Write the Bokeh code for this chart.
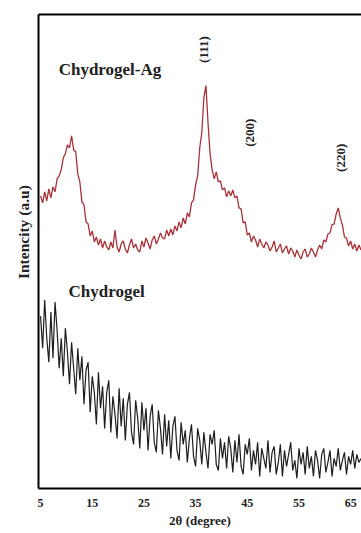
from bokeh.plotting import figure
from bokeh.models import LinearAxis, Label, FixedTicker, Range1d
from bokeh.embed import file_html
from bokeh.resources import INLINE

# 2-theta sampling (degrees)
theta_start = 5.0
theta_step = 0.4

# Chydrogel-Ag (red) intensities, a.u.
ag_intensity = [
    292, 285, 296, 287, 299, 290, 301, 296, 309, 312,
    318, 330, 334, 343, 340, 352, 338, 336, 314, 306,
    286, 283, 266, 264, 252, 257, 246, 251, 243, 249,
    240, 247, 241, 238, 246, 240,
    258, 241, 236, 244, 247, 239, 235, 243, 249, 240,
    244, 238, 236, 247, 241, 250, 245, 239, 248, 252,
    244, 249, 255, 250,
    249, 258, 252, 259, 253, 262, 257, 266, 260, 270,
    264, 275, 271, 285, 288, 303, 312, 340, 355, 390,
    402, 365, 334, 318, 309, 316, 306, 307, 298, 300,
    291, 297, 292, 298, 290, 292, 280, 279, 265, 266,
    253, 255, 246, 252, 248, 241, 249, 244, 240, 246,
    243, 237, 241, 247, 236, 240, 244, 235, 239, 242,
    234, 240, 237, 231, 238, 233, 229, 236, 239, 231,
    234, 240, 236, 231, 238, 243,
    239, 248, 246, 254, 255, 263, 264, 274, 280, 270,
    263, 251, 250, 242, 247, 239, 244, 237, 243, 238,
]

# Chydrogel (black) intensities, a.u.
gel_intensity = [
    172, 140, 188, 150, 126, 176, 130, 186, 158, 120,
    150, 112, 160, 136, 104, 146, 120, 94, 140, 108,
    132, 84, 118, 126, 76, 112, 96, 64, 116, 80,
    102, 60, 96, 108, 56, 92, 74, 50, 100, 62,
    90, 48, 84, 96, 56, 44, 88, 70, 40, 86,
    58, 80, 38, 72, 84, 46, 36, 78, 60, 34,
    74, 42, 68, 30, 62, 72, 38, 28, 66, 44,
    58, 26, 50, 64, 32, 22, 60, 48, 24, 56,
    36, 20, 54, 44, 58, 24, 18, 50, 30, 46,
    20, 52, 40, 16, 48, 26, 54, 22, 14, 44,
    34, 50, 18, 38, 24, 46, 12, 40, 30, 20,
    48, 16, 36, 42, 14, 26, 44, 12, 38, 22,
    34, 46, 18, 28, 10, 40, 24, 36, 14, 42,
    20, 32, 12, 38, 28, 10, 34, 40, 16, 26,
    38, 12, 30, 22, 40, 18, 28, 36, 14, 32,
    24, 38, 20, 34, 26, 30,
]

two_theta = [theta_start + theta_step * i for i in range(len(ag_intensity))]

x_ticks = [5, 15, 25, 35, 45, 55, 65]

series_labels = ["Chydrogel-Ag", "Chydrogel"]
peak_labels = ["(111)", "(200)", "(220)"]
peak_x = [36.5, 45.4, 63.0]
peak_y = [438, 355, 330]

SERIF = "Liberation Serif"
INK = "#222222"

p = figure(width=361, height=533, output_backend="svg", toolbar_location=None,
           x_range=Range1d(4.6, 67.1), y_range=Range1d(0, 473),
           x_axis_location=None, y_axis_location=None,
           min_border_left=38, min_border_right=0, min_border_top=14,
           min_border_bottom=45)
p.outline_line_color = None
p.xgrid.visible = False
p.ygrid.visible = False
p.background_fill_color = "white"
p.border_fill_color = "white"

xaxis = LinearAxis(ticker=FixedTicker(ticks=x_ticks))
xaxis.axis_line_width = 2
xaxis.axis_line_color = "black"
xaxis.major_tick_line_color = None
xaxis.minor_tick_line_color = None
xaxis.major_tick_out = 0
xaxis.major_tick_in = 0
xaxis.major_label_standoff = 10
xaxis.major_label_text_font = SERIF
xaxis.major_label_text_font_style = "bold"
xaxis.major_label_text_font_size = "12px"
xaxis.major_label_text_color = INK
xaxis.axis_label = "2θ (degree)"
xaxis.axis_label_text_font = SERIF
xaxis.axis_label_text_font_style = "bold"
xaxis.axis_label_text_font_size = "13px"
xaxis.axis_label_text_color = INK
xaxis.axis_label_standoff = 3
p.add_layout(xaxis, "below")

yaxis = LinearAxis()
yaxis.axis_line_width = 2
yaxis.axis_line_color = "black"
yaxis.major_tick_line_color = None
yaxis.minor_tick_line_color = None
yaxis.major_tick_out = 0
yaxis.major_tick_in = 0
yaxis.major_label_text_font_size = "0px"
yaxis.major_label_text_color = None
yaxis.axis_label = "\u00a0" * 10 + "Intencity (a.u)"
yaxis.axis_label_text_font = SERIF
yaxis.axis_label_text_font_style = "bold"
yaxis.axis_label_text_font_size = "15.5px"
yaxis.axis_label_text_color = INK
yaxis.axis_label_standoff = 3
p.add_layout(yaxis, "left")

top = LinearAxis()
top.axis_line_width = 2
top.axis_line_color = "black"
top.major_tick_line_color = None
top.minor_tick_line_color = None
top.major_tick_out = 0
top.major_tick_in = 0
top.major_label_text_font_size = "0px"
top.major_label_text_color = None
p.add_layout(top, "above")

p.line(two_theta, ag_intensity, line_color="#a8323a", line_width=1.3)
p.line(two_theta, gel_intensity, line_color="#1e1e1e", line_width=1.2)

p.add_layout(Label(x=8.5, y=418, text=series_labels[0], text_font=SERIF,
                   text_font_style="bold", text_font_size="17px",
                   text_color=INK, text_baseline="middle"))
p.add_layout(Label(x=10.4, y=197, text=series_labels[1], text_font=SERIF,
                   text_font_style="bold", text_font_size="17px",
                   text_color=INK, text_baseline="middle"))
for t, xx, yy in zip(peak_labels, peak_x, peak_y):
    p.add_layout(Label(x=xx, y=yy, text=t, angle=90, angle_units="deg",
                       text_font=SERIF, text_font_style="bold",
                       text_font_size="13px", text_color=INK,
                       text_align="center", text_baseline="middle"))

open("out.html", "w").write(file_html(p, INLINE))
